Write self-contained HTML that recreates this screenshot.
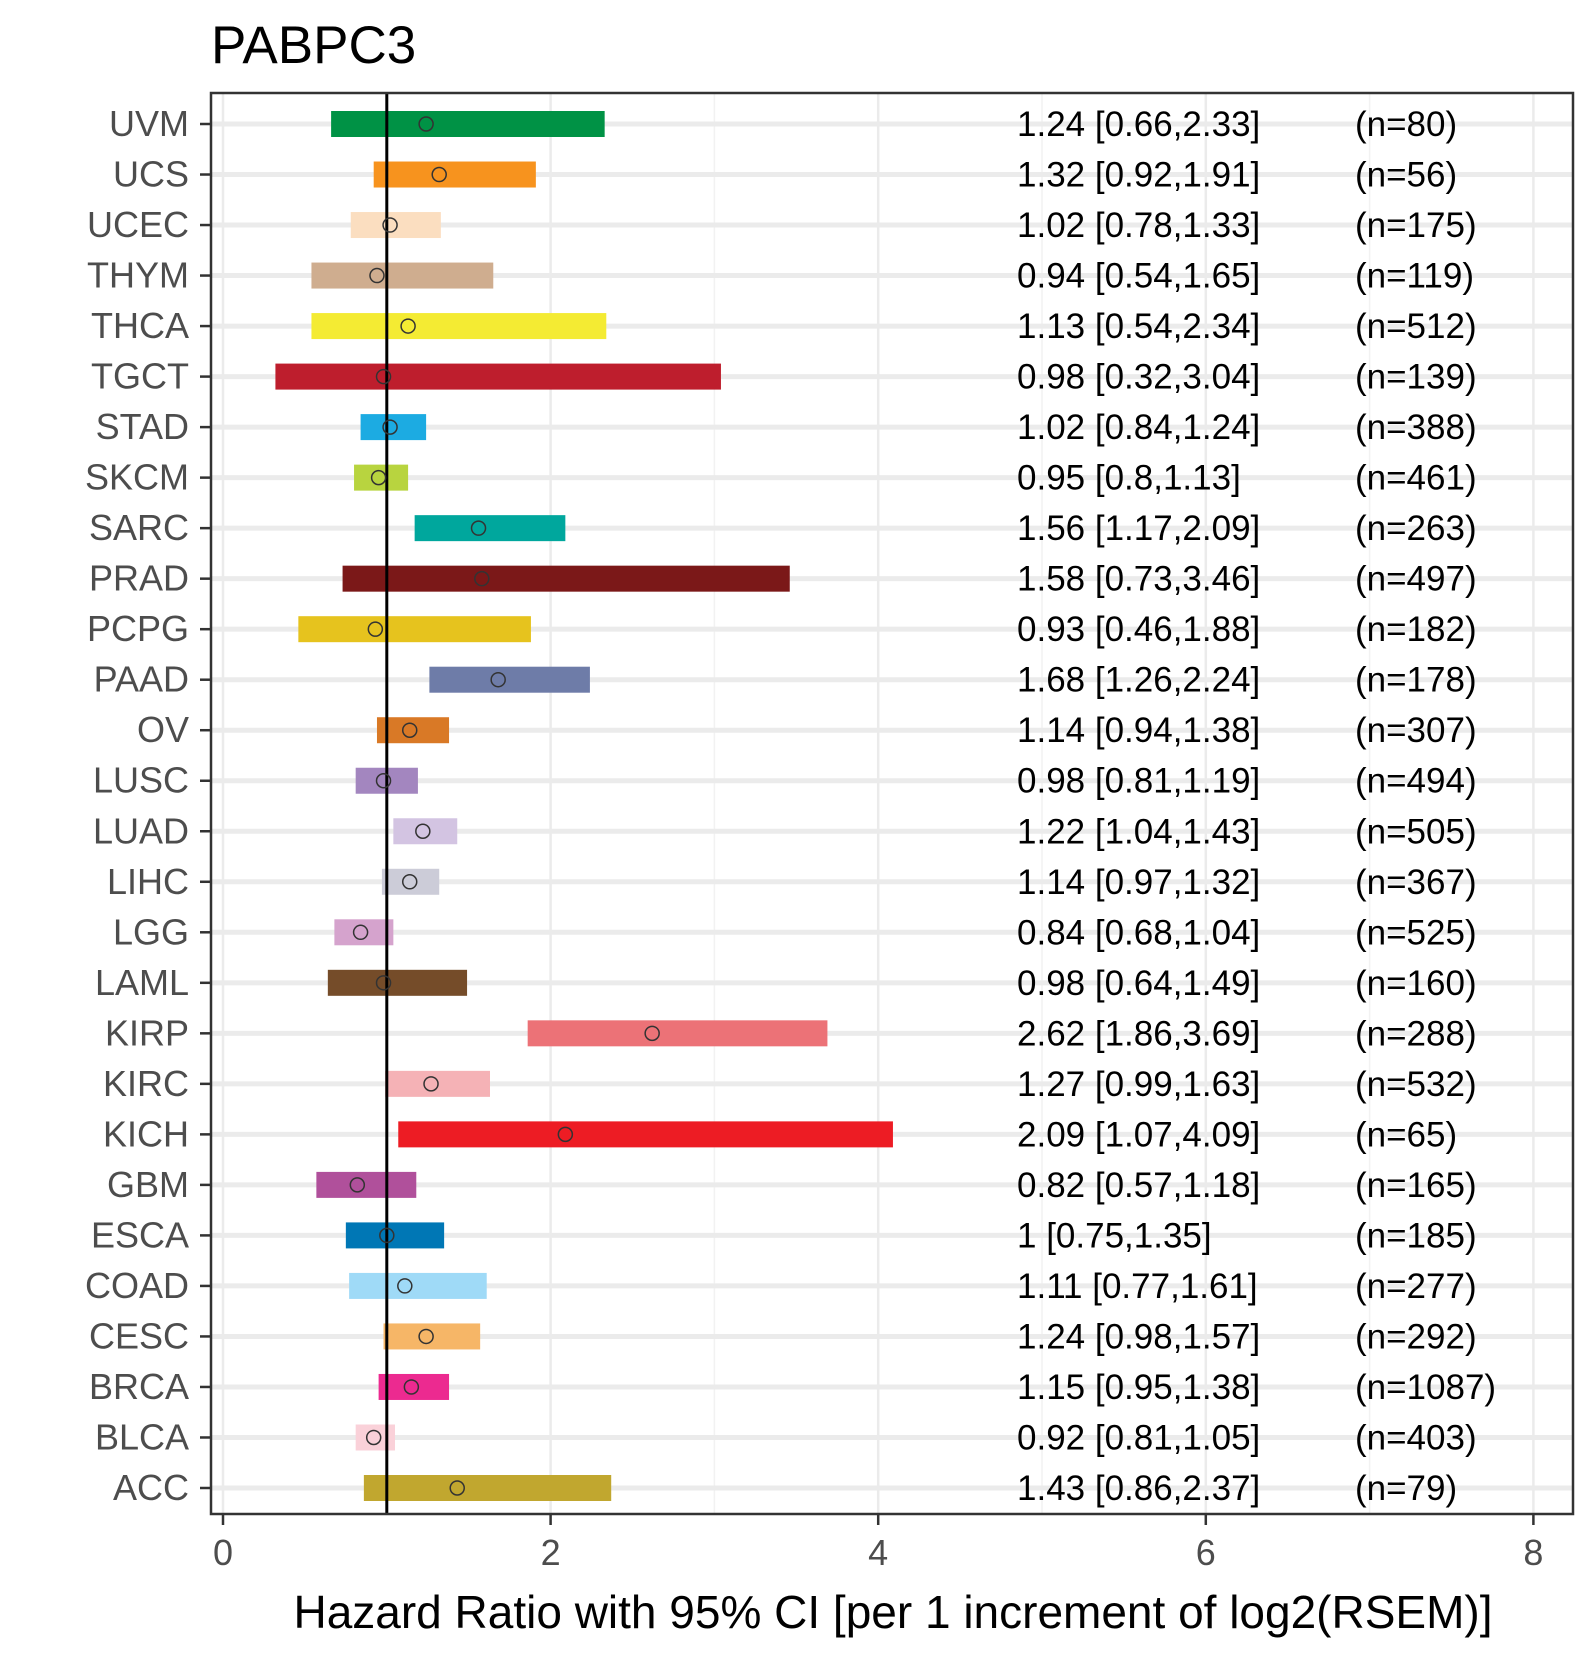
<!DOCTYPE html>
<html><head><meta charset="utf-8"><style>
html,body{margin:0;padding:0;background:#fff;}
svg text{font-family:"Liberation Sans",Arial,sans-serif;}
</style></head><body>
<svg id="chart" width="1590" height="1650" xmlns="http://www.w3.org/2000/svg"></svg>
<script>
const cancers=["UVM","UCS","UCEC","THYM","THCA","TGCT","STAD","SKCM","SARC","PRAD","PCPG","PAAD","OV","LUSC","LUAD","LIHC","LGG","LAML","KIRP","KIRC","KICH","GBM","ESCA","COAD","CESC","BRCA","BLCA","ACC"];
const hr=[1.24,1.32,1.02,0.94,1.13,0.98,1.02,0.95,1.56,1.58,0.93,1.68,1.14,0.98,1.22,1.14,0.84,0.98,2.62,1.27,2.09,0.82,1,1.11,1.24,1.15,0.92,1.43];
const lo=[0.66,0.92,0.78,0.54,0.54,0.32,0.84,0.8,1.17,0.73,0.46,1.26,0.94,0.81,1.04,0.97,0.68,0.64,1.86,0.99,1.07,0.57,0.75,0.77,0.98,0.95,0.81,0.86];
const hi=[2.33,1.91,1.33,1.65,2.34,3.04,1.24,1.13,2.09,3.46,1.88,2.24,1.38,1.19,1.43,1.32,1.04,1.49,3.69,1.63,4.09,1.18,1.35,1.61,1.57,1.38,1.05,2.37];
const nvals=[80,56,175,119,512,139,388,461,263,497,182,178,307,494,505,367,525,160,288,532,65,165,185,277,292,1087,403,79];
const colors=["#009245","#F7931E","#FBDEC0","#CFAD8F","#F4EB33","#BE1E2D","#1CABE2","#B8D43F","#00A79D","#7B1818","#E6C31E","#6E7CA8","#D97926","#A386BF","#D3C4E2","#CCCCD8","#D5A3CD","#754C29","#EC7277","#F5B2B6","#ED1C24","#B0509B","#0077B5","#9FDAF7","#F6B667","#EC2A90","#FAD1D9","#C1A72F"];
const xTicks=[0,2,4,6,8];

const svg=document.getElementById('chart');
const NS="http://www.w3.org/2000/svg";
const L=211,R=1573,T=93,B=1514;
const xs=v=>223+v*163.8;
const ys=i=>124+i*(1488-124)/(cancers.length-1);
function mk(tag,attrs,txt){const e=document.createElementNS(NS,tag);for(const k in attrs)e.setAttribute(k,attrs[k]);if(txt!==undefined)e.textContent=txt;svg.appendChild(e);return e;}

let t=mk('text',{x:211,y:63,'font-size':53,fill:'#000'},'PABPC3');



let bg=mk('rect',{x:L,y:T,width:R-L,height:B-T,fill:'#fff'});


for(let v=1;v<8;v+=2){let g=mk('line',{x1:xs(v),x2:xs(v),y1:T,y2:B,stroke:'#f2f2f2','stroke-width':1.5});

}
xTicks.forEach(v=>{let g=mk('line',{x1:xs(v),x2:xs(v),y1:T,y2:B,stroke:'#ebebeb','stroke-width':2.5});

});
cancers.forEach((c,i)=>{let g=mk('line',{x1:L,x2:R,y1:ys(i),y2:ys(i),stroke:'#ebebeb','stroke-width':5});

});

cancers.forEach((c,i)=>{
 const y=ys(i);
 let b=mk('rect',{x:xs(lo[i]),y:y-13,width:xs(hi[i])-xs(lo[i]),height:26,fill:colors[i]});
 
 
 let lab=mk('text',{x:189,y:y+12,'font-size':36,fill:'#4d4d4d','text-anchor':'end'},c);
 
 
 let tk=mk('line',{x1:200,x2:L,y1:y,y2:y,stroke:'#333','stroke-width':2.5});
 
 
 let ht=mk('text',{x:1017,y:y+12,'font-size':35,fill:'#000'},hr[i]+' ['+lo[i]+','+hi[i]+']');
 
 
 let nt=mk('text',{x:1355,y:y+12,'font-size':35,fill:'#000'},'(n='+nvals[i]+')');
 
 
});
let vl=mk('line',{x1:xs(1),x2:xs(1),y1:T,y2:B,stroke:'#000','stroke-width':3});


cancers.forEach((c,i)=>{let p=mk('circle',{cx:xs(hr[i]),cy:ys(i),r:7,fill:'none',stroke:'#333','stroke-width':1.5});

});

let fr=mk('rect',{x:L,y:T,width:R-L,height:B-T,fill:'none',stroke:'#333','stroke-width':2.5});


xTicks.forEach(v=>{
 let tk=mk('line',{x1:xs(v),x2:xs(v),y1:B,y2:B+11,stroke:'#333','stroke-width':2.5});
 
 
 let tl=mk('text',{x:xs(v),y:1565,'font-size':36,fill:'#4d4d4d','text-anchor':'middle'},v);
 
 
});
let xt=mk('text',{x:893,y:1628,'font-size':46,fill:'#000','text-anchor':'middle'},'Hazard Ratio with 95% CI [per 1 increment of log2(RSEM)]');


</script>
</body></html>
